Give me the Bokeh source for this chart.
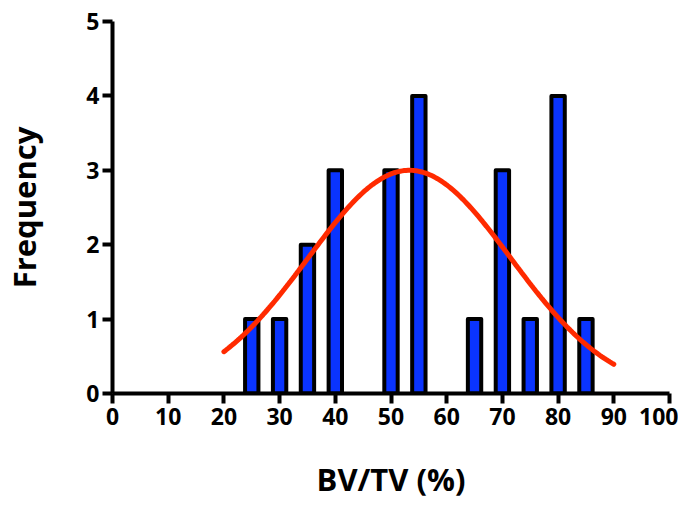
import numpy as np
from bokeh.plotting import figure
from bokeh.models import Range1d, FixedTicker
from bokeh.embed import file_html
from bokeh.resources import INLINE

# Histogram data: bin centres and frequencies
bin_centers = [25, 30, 35, 40, 50, 55, 65, 70, 75, 80, 85]
frequencies = [1, 1, 2, 3, 3, 4, 1, 3, 1, 4, 1]

# Gaussian fit parameters (amplitude, mean, SD) and fit span
fit_amplitude = 3.0
fit_mean = 53.3
fit_sd = 18.2
fit_start, fit_end = 20, 90

x_ticks = [0, 10, 20, 30, 40, 50, 60, 70, 80, 90, 100]
y_ticks = [0, 1, 2, 3, 4, 5]

FONT = "Open Sans"

p = figure(width=678, height=502, output_backend="svg", toolbar_location=None,
           x_range=Range1d(0, 100), y_range=Range1d(0, 5),
           min_border_left=105, min_border_top=21, min_border_right=9,
           min_border_bottom=100)
p.outline_line_color = None
p.grid.visible = False
p.background_fill_color = "white"

p.vbar(x=bin_centers, top=frequencies, bottom=0, width=2.4,
       fill_color="#0A34FF", line_color="black", line_width=4,
       line_join="round")

fx = np.linspace(fit_start, fit_end, 200)
fy = fit_amplitude * np.exp(-(fx - fit_mean) ** 2 / (2 * fit_sd ** 2))
p.line(fx, fy, line_color="#FF2A00", line_width=5, line_cap="round")

for ax in (p.xaxis[0], p.yaxis[0]):
    ax.axis_line_width = 4
    ax.axis_line_color = "black"
    ax.major_tick_line_width = 4
    ax.major_tick_line_color = "black"
    ax.major_tick_in = 0
    ax.major_tick_out = 10
    ax.minor_tick_line_color = None
    ax.major_label_text_font = FONT
    ax.major_label_text_font_style = "bold"
    ax.major_label_text_font_size = "23px"
    ax.major_label_text_color = "black"
    ax.axis_label_text_font = FONT
    ax.axis_label_text_font_style = "bold"
    ax.axis_label_text_font_size = "31px"
    ax.axis_label_text_color = "black"

p.xaxis.ticker = FixedTicker(ticks=x_ticks)
p.yaxis.ticker = FixedTicker(ticks=y_ticks)
p.xaxis.axis_label = "BV/TV (%)"
p.yaxis.axis_label = "Frequency"
p.xaxis.major_label_standoff = 4
p.yaxis.major_label_standoff = 3
p.xaxis.axis_label_standoff = 30
p.yaxis.axis_label_standoff = 38

open("out.html", "w").write(file_html(p, INLINE))
